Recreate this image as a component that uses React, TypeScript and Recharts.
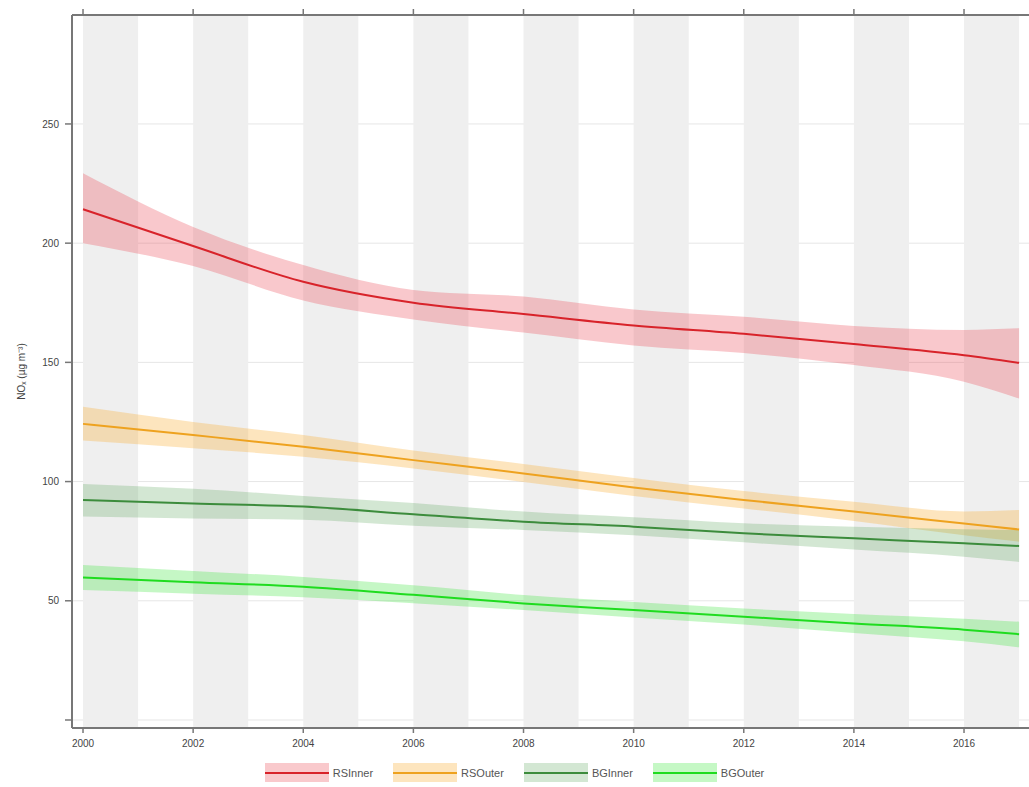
import React from 'react';
import { ComposedChart, Area, Line, XAxis, YAxis, CartesianGrid, ReferenceArea } from 'recharts';

// years (even years + the last one)
const years = [2000, 2002, 2004, 2006, 2008, 2010, 2012, 2014, 2016, 2017];

const rsInner = [214.2, 198.8, 183.8, 175, 170.3, 165.5, 162, 157.7, 153, 149.8];
const rsInnerLow = [200, 190.4, 176, 168, 162.5, 157.1, 153.9, 148.9, 141.9, 134.8];
const rsInnerHigh = [229.3, 206.8, 190.8, 180.4, 177.6, 172.2, 169.1, 165.3, 163.6, 164.3];

const rsOuter = [124.2, 119.5, 114.6, 109, 103.4, 97.5, 92.3, 87.4, 82.4, 79.9];
const rsOuterLow = [117.2, 114, 110.4, 105.5, 99.8, 94, 88.7, 83.5, 77.5, 74.8];
const rsOuterHigh = [131.4, 125, 119.5, 113, 107.4, 101.5, 96, 91.5, 87.5, 88.1];

const bgInner = [92.3, 90.8, 89.5, 86.3, 83.2, 81.1, 78.3, 76.2, 74.1, 73];
const bgInnerLow = [85.3, 84.5, 84, 81.5, 79.7, 77.5, 74.5, 71.5, 68.5, 66.3];
const bgInnerHigh = [99, 97, 94, 91, 87.4, 85, 82.5, 81, 80, 79.7];

const bgOuter = [59.8, 57.8, 55.9, 52.5, 48.9, 46.1, 43.3, 40.5, 37.9, 36];
const bgOuterLow = [54.5, 53, 51.5, 49, 46.1, 43, 40, 36.5, 33, 30.5];
const bgOuterHigh = [65, 62.5, 60, 56.5, 52.4, 49.5, 46.8, 44.5, 42.5, 41.2];

const xTicks = [2000, 2002, 2004, 2006, 2008, 2010, 2012, 2014, 2016];
const yTicks = [0, 50, 100, 150, 200, 250];
const shadedYears = [2000, 2002, 2004, 2006, 2008, 2010, 2012, 2014, 2016];

const series = [
  { key: 'rsInner', name: 'RSInner', line: '#d8232a', band: '#ec4a55', bandOpacity: 0.3 },
  { key: 'rsOuter', name: 'RSOuter', line: '#eea21f', band: '#f9b446', bandOpacity: 0.35 },
  { key: 'bgInner', name: 'BGInner', line: '#3c8c3c', band: '#4f9f4f', bandOpacity: 0.25 },
  { key: 'bgOuter', name: 'BGOuter', line: '#1fdc1f', band: '#3ee63e', bandOpacity: 0.3 },
];

const data = years.map((year, i) => ({
  year,
  rsInner: rsInner[i],
  rsInnerBand: [rsInnerLow[i], rsInnerHigh[i]],
  rsOuter: rsOuter[i],
  rsOuterBand: [rsOuterLow[i], rsOuterHigh[i]],
  bgInner: bgInner[i],
  bgInnerBand: [bgInnerLow[i], bgInnerHigh[i]],
  bgOuter: bgOuter[i],
  bgOuterBand: [bgOuterLow[i], bgOuterHigh[i]],
}));

const axisColor = '#777';
const tickStyle = { fontSize: 10, fill: '#444', fontFamily: 'Liberation Sans, Arial, sans-serif' };

const YLabel = (props: any) => {
  const { viewBox } = props;
  const x = viewBox.x + 22;
  const y = viewBox.y + viewBox.height / 2;
  return (
    <text
      x={x}
      y={y}
      transform={`rotate(-90 ${x} ${y})`}
      textAnchor="middle"
      dominantBaseline="middle"
      fontSize={10}
      fill="#444"
      fontFamily="Liberation Sans, Arial, sans-serif"
    >
      NOₓ (µg m⁻³)
    </text>
  );
};

const LegendRow = () => (
  <div
    style={{
      position: 'absolute',
      top: 763,
      left: 0,
      width: 1029,
      display: 'flex',
      justifyContent: 'center',
      alignItems: 'center',
      gap: 20,
      fontFamily: 'Liberation Sans, Arial, sans-serif',
      fontSize: 11,
      color: '#555',
    }}
  >
    {series.map((s) => (
      <div key={s.key} style={{ display: 'flex', alignItems: 'center' }}>
        <div style={{ width: 64, height: 19, background: s.band, position: 'relative' }}>
          <div style={{ position: 'absolute', inset: 0, background: '#fff', opacity: 1 - s.bandOpacity }} />
          <div style={{ position: 'absolute', left: 0, right: 0, top: 8.5, height: 2, background: s.line }} />
        </div>
        <span style={{ marginLeft: 4 }}>{s.name}</span>
      </div>
    ))}
  </div>
);

export default function App() {
  return (
    <div style={{ position: 'absolute', left: 0, top: 0, width: 1029, height: 787, background: '#fff' }}>
      <ComposedChart width={1029} height={787} data={data} margin={{ top: 5, right: 0, left: 0, bottom: 0 }}>
        {shadedYears.map((y) => (
          <ReferenceArea key={y} x1={y} x2={y + 1} fill="#efefef" fillOpacity={1} stroke="none" ifOverflow="hidden" />
        ))}
        <CartesianGrid vertical={false} stroke="#e6e6e6" strokeWidth={1} />
        <XAxis
          dataKey="year"
          type="number"
          domain={[1999.8, 2017.18]}
          allowDataOverflow
          ticks={xTicks}
          height={59}
          tickSize={5}
          tickMargin={7}
          tick={tickStyle}
          axisLine={{ stroke: axisColor, strokeWidth: 2 }}
          tickLine={{ stroke: axisColor, strokeWidth: 1.5 }}
        />
        <XAxis
          xAxisId="top"
          dataKey="year"
          type="number"
          orientation="top"
          domain={[1999.8, 2017.18]}
          allowDataOverflow
          ticks={xTicks}
          height={10}
          tickSize={6}
          tickMargin={2}
          tick={{ fontSize: 1, fill: 'none' }}
          tickLine={{ stroke: axisColor, strokeWidth: 1.5 }}
          axisLine={{ stroke: axisColor, strokeWidth: 2 }}
        />
        <YAxis
          type="number"
          domain={[-3.36, 295.7]}
          allowDataOverflow
          ticks={yTicks}
          width={72}
          tickSize={7}
          tickMargin={6}
          tick={tickStyle}
          tickFormatter={(v: number) => (v === 0 ? '' : String(v))}
          axisLine={{ stroke: axisColor, strokeWidth: 2 }}
          tickLine={{ stroke: axisColor, strokeWidth: 1.5 }}
          label={<YLabel />}
        />
        {series.map((s) => (
          <Area
            key={s.key + 'Band'}
            type="monotone"
            dataKey={s.key + 'Band'}
            stroke="none"
            fill={s.band}
            fillOpacity={s.bandOpacity}
            dot={false}
            activeDot={false}
            isAnimationActive={false}
          />
        ))}
        {series.map((s) => (
          <Line
            key={s.key}
            type="monotone"
            dataKey={s.key}
            stroke={s.line}
            strokeWidth={2}
            dot={false}
            activeDot={false}
            isAnimationActive={false}
          />
        ))}
      </ComposedChart>
      <LegendRow />
    </div>
  );
}
